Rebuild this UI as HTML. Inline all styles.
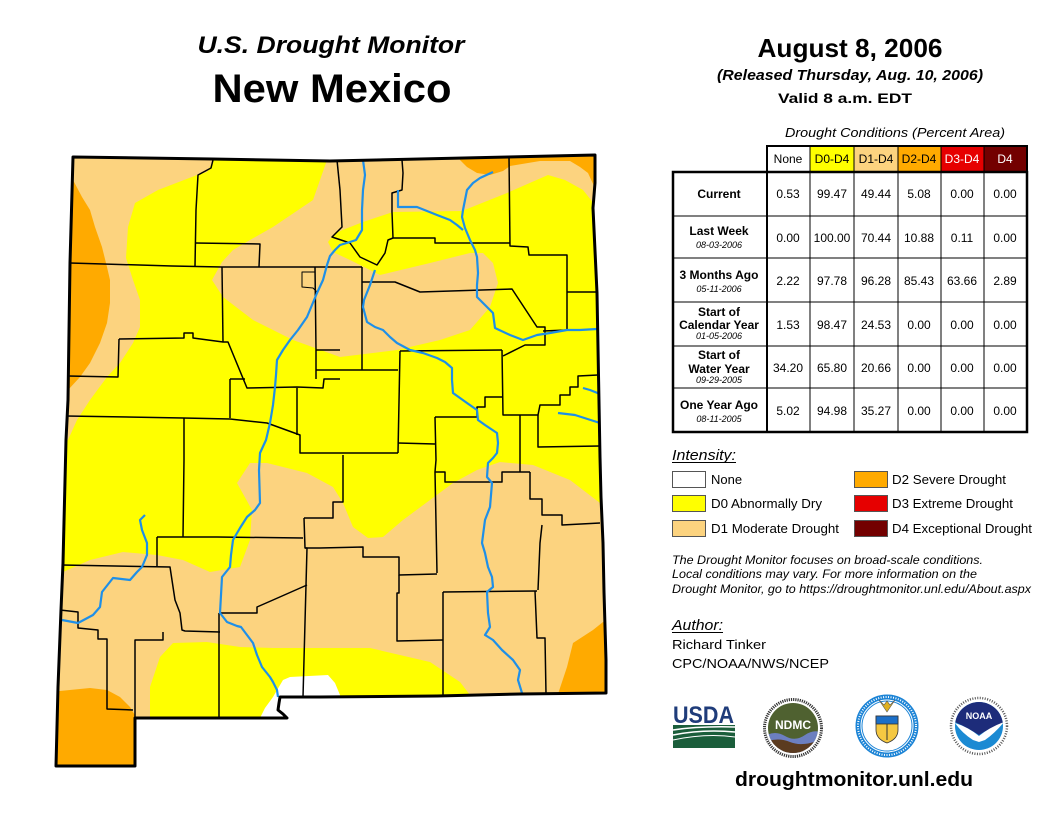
<!DOCTYPE html>
<html><head><meta charset="utf-8"><style>
html,body{margin:0;padding:0;background:#fff;}
svg{display:block;}
text{font-family:"Liberation Sans",Arial,sans-serif;}
</style></head><body>
<svg width="1056" height="816" viewBox="0 0 1056 816" xmlns="http://www.w3.org/2000/svg">
<defs>
<clipPath id="nm"><polygon points="73,157 212,159 330,161 508,157 595,155 595,183 593,208 597,293 600,457 601,497 603,543 604,592 606,660 606,693 520,694 437,696 320,697 290,697 280,697 279,703 278,710 283,714 287,718 135,718 135,766 56,766 58,687 61,610 63,563 66,440 68,400 70,263 73,157"/></clipPath>
<clipPath id="ndc"><circle cx="793" cy="728" r="25"/></clipPath>
<clipPath id="noc"><circle cx="979" cy="726" r="24"/></clipPath>
</defs>

<!-- Titles -->
<text x="331" y="53" font-size="24" font-weight="bold" font-style="italic" text-anchor="middle" textLength="267" lengthAdjust="spacingAndGlyphs">U.S. Drought Monitor</text>
<text x="332" y="102" font-size="40" font-weight="bold" text-anchor="middle" textLength="239" lengthAdjust="spacingAndGlyphs">New Mexico</text>
<text x="850" y="57" font-size="26" font-weight="bold" text-anchor="middle" textLength="185" lengthAdjust="spacingAndGlyphs">August 8, 2006</text>
<text x="850" y="80" font-size="15" font-weight="bold" font-style="italic" text-anchor="middle" textLength="266" lengthAdjust="spacingAndGlyphs">(Released Thursday, Aug. 10, 2006)</text>
<text x="845" y="103" font-size="14" font-weight="bold" text-anchor="middle" textLength="134" lengthAdjust="spacingAndGlyphs">Valid 8 a.m. EDT</text>

<!-- MAP -->
<g clip-path="url(#nm)">
<rect x="40" y="140" width="600" height="650" fill="#FFFF00"/>
<!-- west D1 -->
<polygon fill="#FCD37F" points="213,150 213,161 207,172 197,175 158,190 135,203 128,227 126,258 133,280 140,300 140,327 133,343 120,363 107,377 90,400 77,420 68,440 50,440 50,150"/>
<!-- west D2 -->
<polygon fill="#FFAA00" points="50,178 73,180 82,197 90,210 95,227 102,247 107,267 110,280 110,303 107,323 100,343 90,363 80,377 68,390 50,394"/>
<!-- north/central D1 -->
<polygon fill="#FCD37F" points="327,150 327,160 313,200 273,227 250,240 233,250 222,262 212,280 223,297 253,320 293,340 340,357 397,350 440,340 470,330 490,307 498,283 493,263 483,253 470,253 430,263 380,275 350,260 333,252 328,242 335,233 363,222 393,212 462,211 507,193 548,175 565,180 583,190 595,205 610,205 610,150"/>
<!-- NE D2 -->
<polygon fill="#FFAA00" points="455,150 460,160 467,167 477,173 490,175 503,171 510,166 540,161 570,161 580,167 588,173 594,186 610,186 610,150"/>
<!-- southern D1 -->
<polygon fill="#FCD37F" points="50,574 63,572 90,560 123,552 157,555 183,560 210,572 240,567 250,540 252,510 237,483 250,463 267,463 307,473 320,480 333,487 343,503 353,527 368,538 383,537 403,520 430,500 453,483 477,470 500,462 533,465 570,480 600,503 615,503 615,780 50,780"/>
<!-- south yellow blob -->
<polygon fill="#FFFF00" points="150,725 150,687 160,657 173,643 207,642 240,647 273,648 340,648 370,648 430,662 445,672 460,682 470,695 475,725"/>
<!-- white None -->
<polygon fill="#FFFFFF" points="258,722 265,708 273,697 283,680 290,677 328,675 335,683 340,695 345,722"/>
<!-- SE D2 -->
<polygon fill="#FFAA00" points="615,615 603,622 593,630 573,643 567,667 556,700 615,700"/>
<!-- SW D2 -->
<polygon fill="#FFAA00" points="50,692 90,688 107,690 120,697 130,707 136,717 136,780 50,780"/>

<!-- county lines -->
<g fill="none" stroke="#000" stroke-width="1.5" stroke-linejoin="round">
<polyline points="213,160 211,168 198,175 196,210 195,266"/>
<polyline points="70,263 172,266 222,267 259,267 315,267 340,267 362,267"/>
<polyline points="195,243 260,244 259,267"/>
<polyline points="222,267 223,342"/>
<polyline points="119,339 184,338 184,333 193,333 193,338 223,342 228,342 247,388 297,387 323,388 324,379 340,379"/>
<polyline points="119,339 118,377 68,376"/>
<polyline points="315,267 316,350 316,379"/>
<polyline points="316,350 340,350"/>
<polyline points="316,370 398,370"/>
<polyline points="230,379 230,418"/>
<polyline points="230,379 245,379"/>
<polyline points="66,416 183,418 230,419 267,423 300,435 300,453 340,453 398,453"/>
<polyline points="184,418 184,460 183,537"/>
<polyline points="297,388 297,435"/>
<polyline points="317,292 313,288 302,287 302,272 315,272" stroke-width="1"/>
<polyline points="337,160 340,190 342,227 332,237 350,243 360,257 377,265 385,253 388,240 393,238"/>
<polyline points="402,160 403,173 402,190 392,193 392,212 393,238 435,238 435,243 510,243"/>
<polyline points="509,157 510,246 528,247 529,255 567,255 567,330 543,331"/>
<polyline points="567,292 597,292"/>
<polyline points="362,267 362,370"/>
<polyline points="362,282 395,282 420,292 512,289 537,327 545,327 545,345 525,345 503,356"/>
<polyline points="400,351 502,350"/>
<polyline points="400,351 398,453"/>
<polyline points="502,350 503,415 538,415 540,405 560,405 560,395 570,395 570,387 578,387 578,376 598,375"/>
<polyline points="538,415 538,447 600,446"/>
<polyline points="435,417 477,417 477,407 485,407 485,397 502,397"/>
<polyline points="435,417 436,460 435,472 437,573"/>
<polyline points="520,415 520,472"/>
<polyline points="398,443 435,444"/>
<polyline points="304,518 333,518 333,502 343,502 343,455"/>
<polyline points="435,472 445,472 445,482 502,482 502,472 530,472"/>
<polyline points="530,472 530,499 542,499 542,515 562,515 562,525 600,523"/>
<polyline points="542,525 540,543 538,590"/>
<polyline points="305,548 320,548 363,547 363,557 399,557 399,575 437,574"/>
<polyline points="399,575 399,593 397,593 397,641 443,640"/>
<polyline points="443,592 537,591"/>
<polyline points="443,592 443,697"/>
<polyline points="535,591 537,638 545,638 546,694"/>
<polyline points="304,518 305,548 307,548 303,697"/>
<polyline points="157,537 217,537 303,538"/>
<polyline points="157,537 157,566"/>
<polyline points="62,565 170,567 175,600 180,613 182,630 185,631 220,632"/>
<polyline points="163,632 163,640 135,640 135,718"/>
<polyline points="60,610 78,612 78,628 98,630 98,639 107,639 107,709 133,710"/>
<polyline points="219,613 219,718"/>
<polyline points="219,613 257,613 257,607 273,600 307,585"/>
</g>

<!-- rivers -->
<g fill="none" stroke="#1E8FE8" stroke-width="2.2" stroke-linejoin="round">
<polyline points="363,160 365,175 363,190 362,210 362,230 356,240 350,242 340,245 335,250 330,256 327,265 323,280 317,293 312,305 307,317 298,330 290,340 283,350 277,360 276,375 275,387 273,405 270,423 266,440 260,453 259,470 260,503 255,510 247,517 240,528 233,540 231,555 230,567 222,577 221,595 220,613 227,622 237,626 241,627 247,635 253,643 257,655 262,667 270,677 273,682 277,690 278,697"/>
<polyline points="375,270 370,285 364,300 363,307 367,322 375,327 383,330 390,337 397,343 410,350 423,353 437,358 445,362 452,368 452,380 453,393 460,398 467,403 477,410 478,420 485,425 497,433 498,443 497,453 493,458 488,463 487,477 492,483 490,507 485,520 482,543 485,553 488,567 492,577 493,587 487,592 488,613 490,627 485,635 493,640 502,650 513,660 520,670 518,680 522,693"/>
<polyline points="493,172 480,178 473,183 467,190 465,200 463,210 462,217 465,228 470,240 475,250 477,257 478,273 477,285 477,297 485,305 493,313 495,328 510,335 523,340 537,335 550,333 567,330 580,330 597,329"/>
<polyline points="398,190 398,207 417,207 437,215 450,220 457,225 463,230"/>
<polyline points="145,515 140,520 142,530 147,543 147,555 142,567 137,572 130,580 113,578 102,592 100,607 93,615 78,623 62,620"/>
<polyline points="583,388 590,390 600,394"/>
<polyline points="558,413 575,415 600,423"/>
</g>
</g>
<!-- state outline -->
<polygon fill="none" stroke="#000" stroke-width="3" stroke-linejoin="round" points="73,157 212,159 330,161 508,157 595,155 595,183 593,208 597,293 600,457 601,497 603,543 604,592 606,660 606,693 520,694 437,696 320,697 290,697 280,697 279,703 278,710 283,714 287,718 135,718 135,766 56,766 58,687 61,610 63,563 66,440 68,400 70,263 73,157"/>

<!-- TABLE -->
<text x="785" y="137" font-size="13" font-style="italic" textLength="220" lengthAdjust="spacingAndGlyphs">Drought Conditions (Percent Area)</text>
<rect x="767" y="146" width="43" height="26" fill="#fff"/>
<rect x="810" y="146" width="44" height="26" fill="#FFFF00"/>
<rect x="854" y="146" width="44" height="26" fill="#FCD37F"/>
<rect x="898" y="146" width="43" height="26" fill="#FFAA00"/>
<rect x="941" y="146" width="43" height="26" fill="#E60000"/>
<rect x="984" y="146" width="43" height="26" fill="#730000"/>
<g stroke="#000" fill="none">
<rect x="767" y="146" width="260" height="26" stroke-width="2"/>
<rect x="673" y="172" width="354" height="260" stroke-width="2.5"/>
<g stroke-width="1">
<line x1="810" y1="146" x2="810" y2="432"/>
<line x1="854" y1="146" x2="854" y2="432"/>
<line x1="898" y1="146" x2="898" y2="432"/>
<line x1="941" y1="146" x2="941" y2="432"/>
<line x1="984" y1="146" x2="984" y2="432"/>
<line x1="673" y1="216" x2="1027" y2="216"/>
<line x1="673" y1="258" x2="1027" y2="258"/>
<line x1="673" y1="302" x2="1027" y2="302"/>
<line x1="673" y1="346" x2="1027" y2="346"/>
<line x1="673" y1="388" x2="1027" y2="388"/>
</g>
<line x1="767" y1="146" x2="767" y2="432" stroke-width="2"/>
</g>
<g font-size="12" text-anchor="middle">
<text x="788" y="163">None</text>
<text x="832" y="163">D0-D4</text>
<text x="876" y="163">D1-D4</text>
<text x="919" y="163">D2-D4</text>
<text x="962" y="163" fill="#fff">D3-D4</text>
<text x="1005" y="163" fill="#fff">D4</text>
</g>
<g font-size="12" font-weight="bold" text-anchor="middle">
<text x="719" y="198">Current</text>
<text x="719" y="235">Last Week</text>
<text x="719" y="279">3 Months Ago</text>
<text x="719" y="316">Start of</text>
<text x="719" y="329">Calendar Year</text>
<text x="719" y="359">Start of</text>
<text x="719" y="373">Water Year</text>
<text x="719" y="409">One Year Ago</text>
</g>
<g font-size="9" font-style="italic" text-anchor="middle">
<text x="719" y="248">08-03-2006</text>
<text x="719" y="292">05-11-2006</text>
<text x="719" y="339">01-05-2006</text>
<text x="719" y="383">09-29-2005</text>
<text x="719" y="422">08-11-2005</text>
</g>
<g font-size="12" text-anchor="middle">
<text x="788" y="198">0.53</text><text x="832" y="198">99.47</text><text x="876" y="198">49.44</text><text x="919" y="198">5.08</text><text x="962" y="198">0.00</text><text x="1005" y="198">0.00</text>
<text x="788" y="242">0.00</text><text x="832" y="242">100.00</text><text x="876" y="242">70.44</text><text x="919" y="242">10.88</text><text x="962" y="242">0.11</text><text x="1005" y="242">0.00</text>
<text x="788" y="285">2.22</text><text x="832" y="285">97.78</text><text x="876" y="285">96.28</text><text x="919" y="285">85.43</text><text x="962" y="285">63.66</text><text x="1005" y="285">2.89</text>
<text x="788" y="329">1.53</text><text x="832" y="329">98.47</text><text x="876" y="329">24.53</text><text x="919" y="329">0.00</text><text x="962" y="329">0.00</text><text x="1005" y="329">0.00</text>
<text x="788" y="372">34.20</text><text x="832" y="372">65.80</text><text x="876" y="372">20.66</text><text x="919" y="372">0.00</text><text x="962" y="372">0.00</text><text x="1005" y="372">0.00</text>
<text x="788" y="415">5.02</text><text x="832" y="415">94.98</text><text x="876" y="415">35.27</text><text x="919" y="415">0.00</text><text x="962" y="415">0.00</text><text x="1005" y="415">0.00</text>
</g>

<!-- LEGEND -->
<text x="672" y="460" font-size="15" font-style="italic" textLength="64" lengthAdjust="spacingAndGlyphs">Intensity:</text>
<line x1="672" y1="462.5" x2="736" y2="462.5" stroke="#000" stroke-width="1"/>
<g stroke="#555" stroke-width="1">
<rect x="672.5" y="471.5" width="33" height="16" fill="#fff"/>
<rect x="672.5" y="495.5" width="33" height="16" fill="#FFFF00"/>
<rect x="672.5" y="520.5" width="33" height="16" fill="#FCD37F"/>
<rect x="854.5" y="471.5" width="33" height="16" fill="#FFAA00"/>
<rect x="854.5" y="495.5" width="33" height="16" fill="#E60000"/>
<rect x="854.5" y="520.5" width="33" height="16" fill="#730000"/>
</g>
<g font-size="13">
<text x="711" y="484">None</text>
<text x="711" y="508" textLength="111" lengthAdjust="spacingAndGlyphs">D0 Abnormally Dry</text>
<text x="711" y="533" textLength="128" lengthAdjust="spacingAndGlyphs">D1 Moderate Drought</text>
<text x="892" y="484" textLength="114" lengthAdjust="spacingAndGlyphs">D2 Severe Drought</text>
<text x="892" y="508" textLength="121" lengthAdjust="spacingAndGlyphs">D3 Extreme Drought</text>
<text x="892" y="533" textLength="140" lengthAdjust="spacingAndGlyphs">D4 Exceptional Drought</text>
</g>
<g font-size="12" font-style="italic">
<text x="672" y="564" textLength="311" lengthAdjust="spacingAndGlyphs">The Drought Monitor focuses on broad-scale conditions.</text>
<text x="672" y="578" textLength="305" lengthAdjust="spacingAndGlyphs">Local conditions may vary. For more information on the</text>
<text x="672" y="593" textLength="359" lengthAdjust="spacingAndGlyphs">Drought Monitor, go to https://droughtmonitor.unl.edu/About.aspx</text>
</g>
<text x="672" y="630" font-size="15" font-style="italic" textLength="51" lengthAdjust="spacingAndGlyphs">Author:</text>
<line x1="672" y1="632.5" x2="723" y2="632.5" stroke="#000" stroke-width="1"/>
<text x="672" y="649" font-size="13" textLength="94" lengthAdjust="spacingAndGlyphs">Richard Tinker</text>
<text x="672" y="668" font-size="13" textLength="157" lengthAdjust="spacingAndGlyphs">CPC/NOAA/NWS/NCEP</text>

<!-- LOGOS -->
<!-- USDA -->
<text x="673" y="723" font-size="24" font-weight="bold" fill="#1F3C7A" textLength="61" lengthAdjust="spacingAndGlyphs">USDA</text>
<rect x="673" y="725" width="62" height="23" fill="#1B5E3B"/>
<path d="M673,730 Q700,726 735,727" stroke="#fff" stroke-width="1.5" fill="none"/>
<path d="M673,735 Q703,729 735,732" stroke="#fff" stroke-width="1.5" fill="none"/>
<path d="M673,740 Q706,733 735,737" stroke="#fff" stroke-width="1" fill="none"/>
<!-- NDMC -->
<circle cx="793" cy="728" r="30" fill="#fff"/>
<circle cx="793" cy="728" r="28.5" fill="none" stroke="#333" stroke-width="3" stroke-dasharray="1.2 1"/>
<circle cx="793" cy="728" r="25" fill="#4F6130"/>
<g clip-path="url(#ndc)">
<path d="M765,736 Q775,730 785,736 T805,735 T825,734 L825,760 L765,760 Z" fill="#6C7FC0"/>
<path d="M765,742 Q778,737 790,742 T820,740 L825,760 L765,760 Z" fill="#5B3B20"/>
</g>
<text x="793" y="729" font-size="12" font-weight="bold" fill="#fff" text-anchor="middle">NDMC</text>
<!-- Commerce -->
<circle cx="887" cy="726" r="32" fill="#fff"/>
<circle cx="887" cy="726" r="29" fill="none" stroke="#1C84D6" stroke-width="5"/>
<circle cx="887" cy="726" r="29" fill="none" stroke="#fff" stroke-width="2" stroke-dasharray="1 1.5"/>
<circle cx="887" cy="726" r="25" fill="#fff" stroke="#1C84D6" stroke-width="1"/>
<path d="M876,716 h22 v14 q0,9 -11,13 q-11,-4 -11,-13 z" fill="#F5C842" stroke="#333" stroke-width="0.8"/>
<rect x="876" y="716" width="22" height="8" fill="#1C6FC8" stroke="#333" stroke-width="0.8"/>
<path d="M879,700 L887,712 L895,700 L890,705 L887,701 L884,705 Z" fill="#E0B020" stroke="#555" stroke-width="0.6"/>
<line x1="887" y1="724" x2="887" y2="740" stroke="#333" stroke-width="1"/>
<!-- NOAA -->
<circle cx="979" cy="726" r="31" fill="#fff"/>
<circle cx="979" cy="726" r="28" fill="none" stroke="#555" stroke-width="2.5" stroke-dasharray="1 1.5"/>
<g clip-path="url(#noc)">
<rect x="953" y="700" width="52" height="52" fill="#1B8AD3"/>
<path d="M955,700 L1005,700 L1005,722 Q990,728 979,735 Q968,728 955,722 Z" fill="#1D2C7A"/>
<path d="M955,723 Q968,727 979,736 Q990,727 1004,722 Q995,733 985,740 L979,742 L973,740 Q962,733 955,723 Z" fill="#fff"/>
</g>
<text x="979" y="719" font-size="9" font-weight="bold" fill="#fff" text-anchor="middle">NOAA</text>

<text x="854" y="786" font-size="20" font-weight="bold" text-anchor="middle" textLength="238" lengthAdjust="spacingAndGlyphs">droughtmonitor.unl.edu</text>
</svg>
</body></html>
